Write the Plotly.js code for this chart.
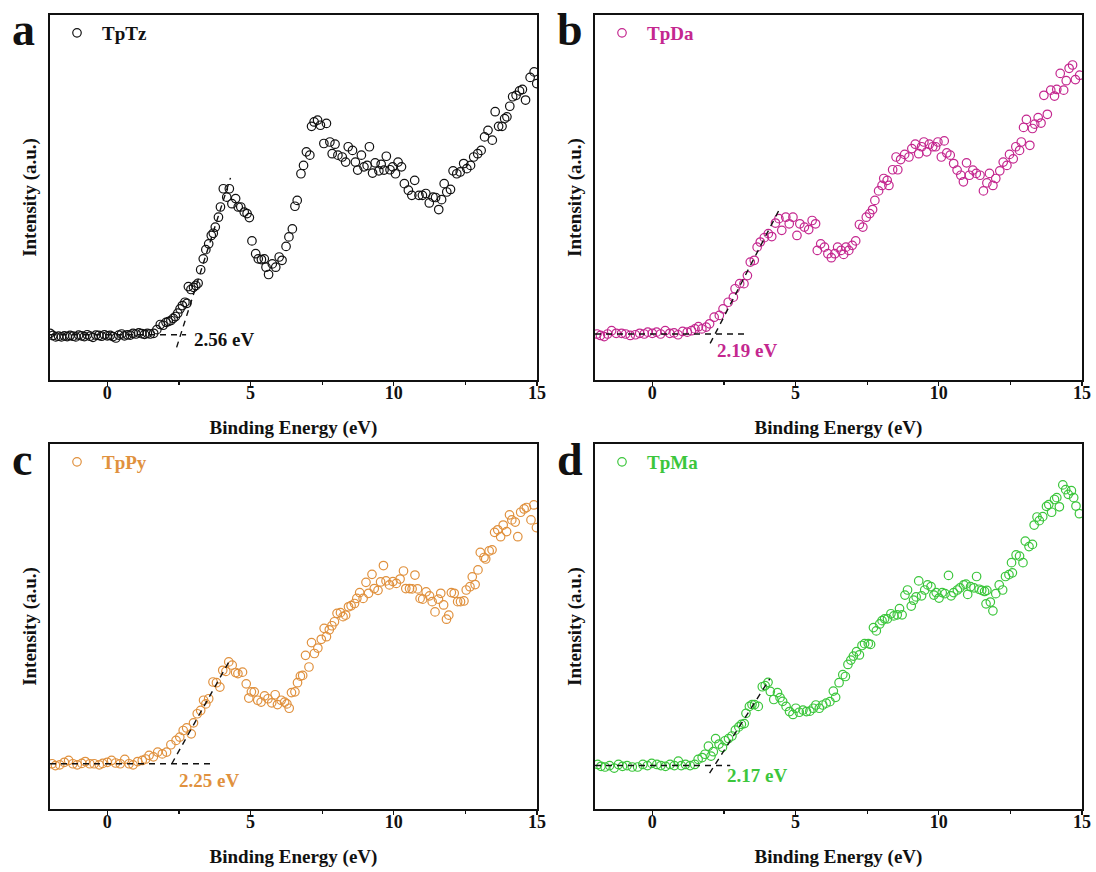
<!DOCTYPE html>
<html>
<head>
<meta charset="utf-8">
<script src="https://cdn.plot.ly/plotly-3.0.1.min.js"></script>
<style>
  html, body { margin: 0; padding: 0; background: #fff; }
  #chart { width: 1096px; height: 872px; }
</style>
</head>
<body>
<div id="chart"></div>
<script>
// Valence-band spectra of four COFs (binding energy in eV, intensity in arbitrary units)

const sampleNames = ['TpTz', 'TpDa', 'TpPy', 'TpMa'];
const panelLetters = ['a', 'b', 'c', 'd'];

// TpTz
const energyTpTz = [-2.0,-1.9,-1.8,-1.7,-1.6,-1.5,-1.4,-1.3,-1.2,-1.1,-1.0,-0.9,-0.8,-0.7,-0.6,-0.5,-0.4,-0.3,-0.2,-0.1,0.0,0.1,0.2,0.3,0.4,0.5,0.6,0.7,0.8,0.9,1.0,1.1,1.2,1.3,1.4,1.5,
  1.62,1.73,1.85,1.95,2.05,2.13,2.22,2.30,2.38,2.46,2.54,2.62,2.71,2.78,2.83,2.92,3.01,3.09,3.17,3.26,3.35,3.44,3.54,3.63,3.70,3.77,3.88,3.95,4.05,4.17,4.26,4.35,4.48,4.57,4.66,4.78,4.88,4.96,
  5.05,5.18,5.27,5.38,5.48,5.54,5.63,5.76,5.88,6.00,6.10,6.24,6.34,6.46,6.55,6.63,6.76,6.85,6.95,7.07,7.13,7.22,7.34,7.44,7.56,7.65,7.77,7.85,7.95,8.05,8.20,8.32,8.41,8.56,8.66,8.74,8.87,8.96,
  9.07,9.15,9.26,9.35,9.48,9.56,9.66,9.74,9.87,9.96,10.06,10.15,10.27,10.37,10.51,10.63,10.73,10.88,11.00,11.12,11.24,11.37,11.46,11.57,11.67,11.76,11.85,11.98,12.07,12.20,12.32,12.44,12.55,12.68,
  12.79,12.93,13.05,13.17,13.29,13.44,13.54,13.66,13.78,13.87,13.95,14.05,14.15,14.27,14.39,14.49,14.60,14.76,14.90,14.99];
const intensityTpTz = [12.8,12.2,11.8,12.0,11.8,12.1,11.9,12.2,12.0,11.8,12.3,12.1,11.9,12.4,12.0,11.7,12.3,12.2,12.0,12.4,12.1,12.2,11.9,11.5,12.3,12.6,12.1,12.4,12.3,12.8,12.6,12.9,12.7,12.5,12.8,12.6,
  12.8,13.8,15.2,15.0,15.8,16.0,16.3,16.9,17.4,18.3,19.5,20.4,21.3,21.0,25.6,24.8,25.4,25.9,26.5,30.2,33.2,35.7,37.3,39.6,40.2,41.9,44.6,47.4,52.4,50.1,52.4,48.3,49.7,47.4,47.4,46.0,45.6,44.5,
  38.1,34.6,33.2,33.0,33.2,30.9,28.9,31.8,30.9,33.7,32.8,36.6,39.2,41.4,47.6,49.2,56.5,58.8,62.5,61.6,69.5,70.7,71.2,69.8,64.8,70.3,65.2,62.0,64.6,61.6,61.1,59.7,63.9,62.9,59.7,57.5,61.6,58.4,
  58.8,63.9,56.7,59.5,57.3,59.1,57.5,61.3,57.6,58.4,56.5,59.7,58.4,53.8,52.0,50.6,54.7,50.6,50.6,51.1,48.5,50.1,50.0,46.7,49.4,53.8,51.5,52.2,57.3,56.5,57.0,59.3,57.9,58.8,
  61.1,62.0,62.9,66.6,68.4,65.7,73.5,69.5,69.5,71.6,72.1,75.0,77.6,78.0,79.2,79.6,76.7,82.9,84.4,81.2];

// TpDa
const energyTpDa = [-1.93,-1.81,-1.68,-1.56,-1.42,-1.26,-1.07,-0.93,-0.77,-0.59,-0.44,-0.28,-0.16,0.0,0.15,0.29,0.45,0.61,0.76,0.90,1.06,1.22,1.37,1.49,1.61,1.73,1.88,2.00,2.16,2.34,2.47,2.65,2.83,2.89,
  3.05,3.20,3.32,3.42,3.56,3.66,3.77,3.91,4.05,4.17,4.30,4.42,4.52,4.66,4.78,4.91,5.05,5.15,5.31,5.46,5.58,5.70,5.76,5.88,6.01,6.13,6.25,6.37,6.47,6.59,6.68,6.76,6.86,6.98,
  7.10,7.23,7.35,7.47,7.59,7.69,7.77,7.90,8.02,8.08,8.20,8.26,8.39,8.51,8.57,8.67,8.81,8.96,9.06,9.18,9.30,9.40,9.48,9.58,9.67,9.79,9.89,9.97,10.09,10.19,10.28,10.40,10.52,10.64,
  10.77,10.86,10.97,11.07,11.19,11.31,11.44,11.56,11.68,11.77,11.89,11.99,12.13,12.25,12.38,12.47,12.60,12.69,12.82,12.88,12.96,13.06,13.18,13.27,13.35,13.47,13.57,13.67,13.79,13.91,
  14.04,14.12,14.24,14.36,14.45,14.55,14.67,14.77,14.92];
const intensityTpDa = [12.6,12.2,11.9,12.6,13.5,12.8,12.8,12.6,12.2,12.4,12.8,12.6,13.1,12.8,13.1,12.6,13.5,12.8,12.9,12.4,13.3,13.1,13.5,14.0,14.6,14.0,14.5,15.4,17.2,17.7,19.5,21.3,22.7,25.0,
  26.4,26.4,28.6,32.3,32.8,36.4,37.8,39.0,40.1,39.3,43.0,44.2,41.0,44.6,42.8,44.6,39.6,42.8,41.9,41.2,43.7,42.8,35.5,37.3,36.4,34.6,33.5,34.6,36.4,35.5,34.4,36.4,35.5,36.9,
  38.1,42.6,41.9,44.6,45.6,46.7,49.2,51.8,53.3,55.2,54.7,53.3,57.6,61.1,57.6,60.4,61.8,61.1,63.4,64.6,62.0,63.9,65.2,62.5,64.6,63.9,63.9,65.2,61.1,65.5,62.2,61.6,59.3,57.5,
  56.1,54.3,59.5,56.1,57.5,56.6,56.1,51.8,54.0,56.6,53.3,55.2,57.3,59.7,58.8,61.8,60.6,63.9,62.9,65.2,69.2,71.4,64.3,68.9,70.1,71.9,70.4,78.0,72.8,79.4,
  77.8,79.6,84.0,79.4,82.0,85.4,86.3,82.3,83.5];

// TpPy
const energyTpPy = [-1.93,-1.81,-1.66,-1.50,-1.35,-1.20,-1.05,-0.89,-0.77,-0.61,-0.46,-0.28,-0.16,0.0,0.15,0.29,0.45,0.61,0.76,0.90,1.06,1.22,1.34,1.46,1.61,1.76,1.92,2.07,2.22,2.40,2.53,2.65,2.77,2.93,
  3.01,3.14,3.26,3.36,3.44,3.54,3.69,3.81,3.93,4.03,4.14,4.24,4.36,4.48,4.56,4.72,4.85,4.94,5.03,5.13,5.25,5.37,5.49,5.61,5.74,5.86,5.94,6.07,6.19,6.27,6.35,6.43,6.55,6.64,
  6.74,6.82,6.92,7.04,7.13,7.23,7.35,7.47,7.57,7.65,7.75,7.84,7.93,8.02,8.14,8.23,8.32,8.42,8.51,8.63,8.71,8.81,8.93,9.03,9.12,9.24,9.32,9.45,9.54,9.64,9.73,9.85,9.97,10.09,
  10.22,10.34,10.42,10.55,10.64,10.74,10.83,10.92,11.01,11.13,11.25,11.34,11.44,11.56,11.64,11.74,11.84,11.92,12.01,12.11,12.23,12.33,12.45,12.53,12.66,12.74,12.84,12.94,13.02,13.15,
  13.21,13.33,13.43,13.52,13.63,13.73,13.82,13.94,14.04,14.12,14.24,14.33,14.43,14.55,14.63,14.79,14.89,14.98];
const intensityTpPy = [12.4,11.9,12.1,12.8,13.3,12.4,12.1,12.5,13.0,12.4,12.4,12.1,12.5,12.8,13.3,12.6,12.4,13.6,12.4,12.1,13.0,13.3,13.7,14.7,14.3,15.6,15.1,15.6,17.6,18.8,19.7,21.5,22.2,20.6,
  23.6,26.1,27.0,29.8,28.8,30.2,34.8,34.6,33.4,38.0,37.7,40.3,39.4,37.4,37.1,37.5,34.3,30.4,32.1,32.1,29.8,29.3,31.0,30.2,29.1,31.3,28.6,29.8,29.3,28.8,27.6,31.9,32.1,34.6,
  36.4,36.6,42.1,38.9,45.6,42.6,44.1,46.5,49.5,47.2,49.1,50.2,51.3,53.6,53.8,52.7,53.1,55.4,55.7,56.3,57.7,59.3,57.7,62.1,59.1,64.3,60.4,59.9,62.2,66.7,62.5,61.4,62.3,61.8,
  63.0,65.2,60.4,60.4,60.3,64.1,60.3,57.7,57.5,59.5,58.4,56.8,54.0,57.5,59.1,55.9,52.0,53.1,59.3,59.1,56.8,56.8,57.0,60.0,60.9,63.6,61.5,65.5,70.3,68.9,
  68.5,70.7,71.0,75.8,76.5,74.6,77.8,76.0,80.6,79.2,78.6,74.6,81.3,82.2,82.6,79.2,83.3,77.1];

// TpMa
const energyTpMa = [-1.91,-1.79,-1.65,-1.49,-1.33,-1.18,-1.04,-0.88,-0.70,-0.51,-0.33,-0.17,-0.02,0.16,0.30,0.46,0.62,0.77,0.91,1.01,1.16,1.32,1.48,1.60,1.74,1.84,1.96,2.05,2.13,2.21,2.33,2.45,2.54,2.66,
  2.78,2.90,3.02,3.11,3.21,3.27,3.39,3.48,3.57,3.70,3.84,3.94,4.04,4.12,4.24,4.37,4.46,4.55,4.67,4.79,4.91,5.01,5.13,5.26,5.38,5.50,5.62,5.71,5.83,5.95,6.07,6.20,6.32,6.40,
  6.52,6.65,6.74,6.83,6.93,7.02,7.13,7.23,7.32,7.41,7.54,7.62,7.72,7.82,7.94,8.02,8.11,8.21,8.33,8.43,8.55,8.63,8.72,8.82,8.91,9.04,9.12,9.21,9.30,9.40,9.51,9.61,9.73,9.83,
  9.91,10.01,10.12,10.22,10.34,10.43,10.52,10.65,10.74,10.87,10.95,11.01,11.11,11.23,11.32,11.41,11.50,11.60,11.65,11.68,11.80,11.89,11.99,12.11,12.23,12.33,12.45,12.54,12.57,12.70,
  12.82,12.94,13.02,13.15,13.27,13.33,13.43,13.51,13.63,13.76,13.84,13.94,14.04,14.12,14.21,14.33,14.43,14.52,14.63,14.71,14.79,14.91];
const intensityTpMa = [12.2,11.7,11.5,11.9,11.2,12.2,11.7,11.9,11.5,11.5,12.2,11.9,12.5,12.2,11.9,11.7,12.2,11.9,13.1,11.9,12.2,11.9,12.2,13.6,14.1,15.0,17.2,14.5,15.7,19.3,17.8,16.9,18.7,19.3,
  20.0,21.6,22.5,23.2,23.4,26.2,28.1,28.6,28.6,28.1,33.5,33.8,34.7,32.2,30.0,31.9,30.5,29.5,28.1,26.7,25.9,27.6,26.5,27.1,26.7,26.8,27.6,28.5,27.6,28.5,29.0,29.4,32.3,30.6,
  34.6,36.8,36.3,39.6,40.8,41.9,43.1,42.2,44.8,45.3,45.3,45.1,49.7,48.8,50.7,51.6,52.1,52.1,53.5,52.9,53.2,54.9,53.2,58.6,60.0,55.6,57.2,58.1,62.5,58.4,60.0,61.4,60.9,58.6,
  59.3,57.8,59.3,59.0,64.0,58.4,59.3,60.0,60.6,61.4,61.6,58.8,60.9,60.6,63.7,60.2,59.9,59.6,56.2,59.9,56.7,54.3,59.0,61.4,60.0,63.7,64.2,67.5,64.7,69.6,
  69.3,67.5,73.4,71.9,72.5,77.8,80.0,79.0,80.1,82.9,83.4,81.3,84.8,85.3,82.8,88.8,87.5,86.2,87.2,85.3,83.0,80.9];

// Band-edge extrapolation: onset energy, background level and slope of the leading edge
const onsetEnergies = [2.56, 2.19, 2.25, 2.17];
const backgroundLevels = [12.4, 12.6, 12.4, 11.9];
const edgeSlopes = [24.7, 15.2, 14.0, 12.3];
const edgeSpans = [[2.42, 4.30], [2.02, 4.42], [2.25, 4.25], [2.00, 4.10]];
const backgroundEnds = [2.75, 3.26, 3.60, 2.72];

const energies = [energyTpTz, energyTpDa, energyTpPy, energyTpMa];
const intensities = [intensityTpTz, intensityTpDa, intensityTpPy, intensityTpMa];

// ---- presentation ----
const colors = ['#111111', '#C4278F', '#E0913E', '#3CC63C'];
const serif = 'Liberation Serif, Times New Roman, serif';
const W = 1096, H = 872;
const px = v => v / W;
const py = v => 1 - v / H;

// plot-area frames in pixels: [left, right, top, bottom]
const frames = [[50, 537, 15, 380], [595, 1082, 15, 380], [50, 537, 444, 809], [595, 1082, 444, 809]];
// label placement for the onset text (data coordinates)
const onsetTextPos = [[2.97, 11.2], [2.20, 8.2], [2.44, 7.9], [2.54, 9.2]];

const traces = [];
const layout = {
  width: W, height: H,
  margin: {l: 0, r: 0, t: 0, b: 0},
  paper_bgcolor: '#fff', plot_bgcolor: '#fff',
  showlegend: true,
  annotations: [],
  font: {family: serif, color: '#111'}
};

const boldFont = size => ({family: serif, size: size, weight: 'bold', color: '#111'});

for (let i = 0; i < 4; i++) {
  const s = i === 0 ? '' : String(i + 1);
  const xa = 'x' + s, ya = 'y' + s;
  const labelAxis = String(i + 5);      // overlay axis carrying tick labels and title
  const legendId = 'legend' + s;

  traces.push({
    x: energies[i], y: intensities[i],
    type: 'scatter', mode: 'markers',
    name: sampleNames[i],
    xaxis: xa, yaxis: ya,
    legend: legendId,
    marker: {symbol: 'circle-open', size: 8.5, color: colors[i], line: {width: 1.2, color: colors[i]}},
    cliponaxis: true
  });

  // flat background extrapolation
  traces.push({
    x: [-2, backgroundEnds[i]],
    y: [backgroundLevels[i], backgroundLevels[i]],
    type: 'scatter', mode: 'lines', showlegend: false, hoverinfo: 'skip',
    xaxis: xa, yaxis: ya,
    line: {color: '#111', width: 1.4, dash: '6px,5px'}
  });

  // leading-edge tangent through the onset
  const [e0, e1] = edgeSpans[i];
  const lineAt = e => backgroundLevels[i] + edgeSlopes[i] * (e - onsetEnergies[i]);
  traces.push({
    x: [e0, e1], y: [lineAt(e0), lineAt(e1)],
    type: 'scatter', mode: 'lines', showlegend: false, hoverinfo: 'skip',
    xaxis: xa, yaxis: ya,
    line: {color: '#111', width: 1.4, dash: '6px,5px'}
  });

  // empty trace that attaches the label axis to this panel
  traces.push({
    x: [], y: [], type: 'scatter', mode: 'markers', showlegend: false, hoverinfo: 'skip',
    xaxis: 'x' + labelAxis, yaxis: ya
  });

  const [l, r, t, b] = frames[i];
  // frame + tick marks
  layout['xaxis' + s] = {
    domain: [px(l), px(r)], anchor: ya,
    range: [-2, 15], tick0: 0, dtick: 5,
    ticks: 'outside', ticklen: 4, tickwidth: 1.4, tickcolor: '#111',
    minor: {dtick: 2.5, ticks: 'outside', ticklen: 3, tickwidth: 1.2, tickcolor: '#111'},
    showline: true, mirror: true, linewidth: 1.8, linecolor: '#111',
    showgrid: false, zeroline: false, showticklabels: false
  };
  // tick labels + title, sitting closer to the frame
  layout['xaxis' + labelAxis] = {
    overlaying: xa, anchor: ya, side: 'bottom',
    range: [-2, 15], tick0: 0, dtick: 5,
    ticks: '', showline: false, showgrid: false, zeroline: false,
    tickfont: boldFont(18),
    title: {text: 'Binding Energy (eV)', font: boldFont(19), standoff: 18}
  };
  layout['yaxis' + s] = {
    domain: [py(b), py(t)], anchor: xa,
    range: [0, 100],
    showticklabels: false, ticks: '',
    showline: true, mirror: true, linewidth: 1.8, linecolor: '#111',
    showgrid: false, zeroline: false,
    title: {text: 'Intensity (a.u.)', font: boldFont(19), standoff: 6}
  };
  layout[legendId] = {
    x: px(l + 2), y: py(t + 18), xanchor: 'left', yanchor: 'middle',
    itemwidth: 40,
    bgcolor: 'rgba(0,0,0,0)', borderwidth: 0,
    font: {family: serif, size: 19, weight: 'bold', color: colors[i]}
  };

  layout.annotations.push({
    xref: 'paper', yref: 'paper', x: px(l - 40), y: py(t + 15),
    xanchor: 'left', yanchor: 'middle', showarrow: false,
    text: panelLetters[i],
    font: boldFont(46)
  });
  layout.annotations.push({
    xref: xa, yref: ya, x: onsetTextPos[i][0], y: onsetTextPos[i][1],
    xanchor: 'left', yanchor: 'middle', showarrow: false,
    text: onsetEnergies[i].toFixed(2) + ' eV',
    font: {family: serif, size: 19, weight: 'bold', color: colors[i]}
  });
}

Plotly.newPlot('chart', traces, layout, {displayModeBar: false, staticPlot: true});
</script>
</body>
</html>
